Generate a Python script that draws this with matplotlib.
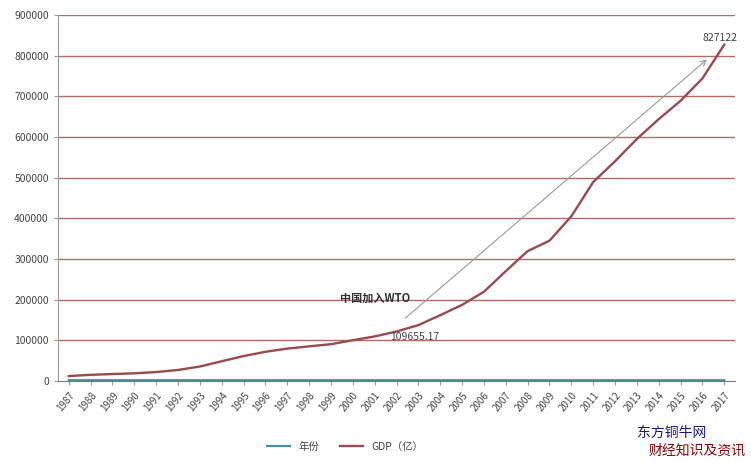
import matplotlib.pyplot as plt

plt.rcParams['font.family'] = ['Noto Sans CJK SC', 'DejaVu Sans']

years = list(range(1987, 2018))
year_labels = [str(y) for y in years]
gdp = [12175, 15180, 17180, 18873, 22006, 27195, 35673, 48638, 61340, 71814,
       79715, 85196, 90564, 100280, 109655.17, 121717, 137422, 161840, 187319, 219439,
       270232, 319516, 345000, 405000, 489301, 540367, 595244, 643974, 689052, 744127,
       827122]
yticks = [0, 100000, 200000, 300000, 400000, 500000, 600000, 700000, 800000, 900000]

fig = plt.figure(figsize=(7.51, 4.61), dpi=100)
ax = fig.add_axes([0.077, 0.1735, 0.902, 0.794])

x = list(range(len(years)))
ax.plot(x, years, color='#4a8fa0', lw=1.6, label='年份')
ax.plot(x, gdp, color='#9a4a4e', lw=1.7, label='GDP（亿）')

ax.set_xlim(-0.5, len(years) - 0.5)
ax.set_ylim(0, 900000)
ax.set_yticks(yticks)
ax.set_yticklabels([str(v) for v in yticks], fontsize=7.5, color='#444444')
ax.set_xticks(x)
ax.set_xticklabels(year_labels, rotation=50, ha='right', rotation_mode='anchor',
                   fontsize=7, color='#444444')
for v in yticks[1:]:
    ax.axhline(v, color='#ad6e6a', lw=1.0, zorder=0)

for s in ['top', 'right']:
    ax.spines[s].set_visible(False)
ax.spines['left'].set_color('#999999')
ax.spines['bottom'].set_color('#777777')
ax.tick_params(axis='both', length=3, color='#999999')

# annotations
ax.annotate('', xy=(29.3, 795000), xytext=(15.3, 150000),
            arrowprops=dict(arrowstyle='->', color='#999999', lw=0.8))
ax.text(12.4, 195000, '中国加入WTO', fontsize=8, fontweight='bold', color='#333333')
ax.text(14.7, 100000, '109655.17', fontsize=7.5, color='#444444')
ax.text(29.8, 827122 + 10000, '827122', fontsize=7.5, color='#444444', ha='center')

fig.legend(loc='lower center', bbox_to_anchor=(0.46, 0.0), ncol=2, frameon=False,
           fontsize=7.5, handlelength=2.2, labelcolor='#444444')

fig.text(0.895, 0.045, '东方铜牛网', fontsize=10, color='#1a1a7a', ha='center', va='bottom')
fig.text(0.928, 0.008, '财经知识及资讯', fontsize=10, color='#8b0000', ha='center', va='bottom')

fig.savefig('out.png', dpi=100)
